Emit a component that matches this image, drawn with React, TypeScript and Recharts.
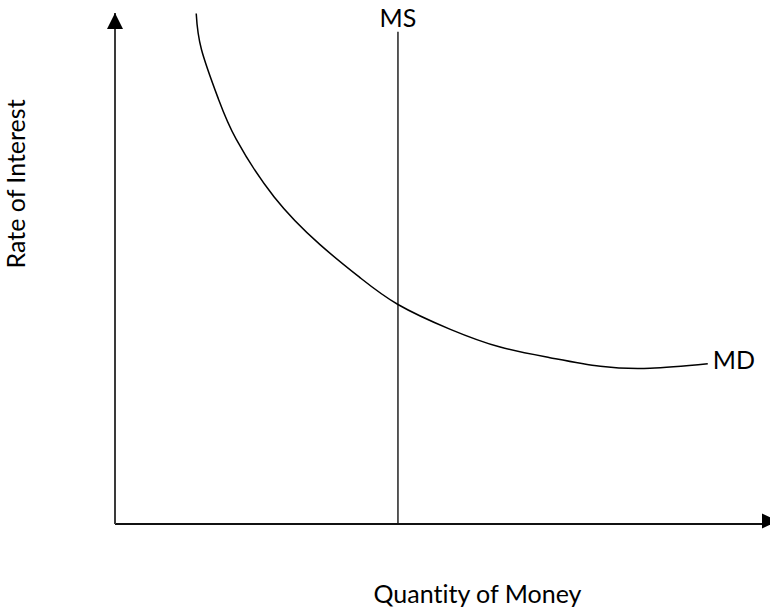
import React from 'react';
import { LineChart, Line, XAxis, YAxis, ReferenceDot } from 'recharts';

// Money demand curve (quantity of money, rate of interest), arbitrary units 0-100
const mdQuantity = [12.4, 13.2, 15.8, 18.5, 24.3, 31.3, 37.4, 43.2, 51.2, 58.8, 66.4, 74.1, 81.7, 90.5];
const mdRate = [99.9, 92.8, 83.0, 75.1, 63.7, 54.3, 47.8, 42.5, 37.6, 34.1, 32.0, 30.3, 29.9, 30.8];

// Money supply: vertical line at a fixed quantity
const msQuantity = [43.2, 43.2];
const msRate = [-0.8, 96.3];

const axisLabels = { x: 'Quantity of Money', y: 'Rate of Interest' };
const seriesLabels = { ms: 'MS', md: 'MD' };

const mdData = mdQuantity.map((x, i) => ({ x, y: mdRate[i] }));
const msData = msQuantity.map((x, i) => ({ x, y: msRate[i] }));

const FONT = 'Lato, "Open Sans", sans-serif';
const FS = 25;

const upArrow = (p: any) => (
  <polygon
    points={`${p.cx},${p.cy} ${p.cx - 8},${p.cy + 16} ${p.cx + 8},${p.cy + 16}`}
    fill="#000"
  />
);
const rightArrow = (p: any) => (
  <polygon
    points={`${p.cx + 8},${p.cy + 1} ${p.cx - 8},${p.cy - 6.5} ${p.cx - 8},${p.cy + 8.5}`}
    fill="#000"
  />
);

export default function App() {
  return (
    <div
      style={{
        position: 'absolute',
        left: 0,
        top: 0,
        background: '#fff',
        fontVariantLigatures: 'none',
        fontFeatureSettings: '"liga" 0, "clig" 0',
      }}
    >
      <LineChart width={770} height={611} margin={{ top: 13, right: 0, left: 0, bottom: 0 }}>
        <XAxis
          type="number"
          dataKey="x"
          domain={[0, 100]}
          tick={false}
          tickLine={false}
          height={87}
          axisLine={{ stroke: '#111', strokeWidth: 2 }}
          label={{
            value: axisLabels.x,
            position: 'insideBottom',
            offset: 8,
            dx: 35,
            fill: '#000',
            fontFamily: FONT,
            fontSize: FS,
          }}
        />
        <YAxis
          type="number"
          dataKey="y"
          domain={[0, 100]}
          tick={false}
          tickLine={false}
          width={115}
          axisLine={{ stroke: '#3a3a3a', strokeWidth: 2 }}
          label={{
            value: axisLabels.y,
            angle: -90,
            position: 'insideLeft',
            offset: 22,
            dx: -6,
            fill: '#000',
            fontFamily: FONT,
            fontSize: FS,
          }}
        />
        <Line
          data={msData}
          dataKey="y"
          type="linear"
          stroke="#222"
          strokeWidth={1.5}
          dot={false}
          activeDot={false}
          isAnimationActive={false}
        />
        <Line
          data={mdData}
          dataKey="y"
          type="natural"
          stroke="#000"
          strokeWidth={1.5}
          dot={false}
          activeDot={false}
          isAnimationActive={false}
        />
        <ReferenceDot x={0} y={100} ifOverflow="visible" shape={upArrow} />
        <ReferenceDot x={100} y={0} ifOverflow="visible" shape={rightArrow} />
        <ReferenceDot
          x={msQuantity[1]}
          y={msRate[1]}
          r={0}
          ifOverflow="visible"
          fill="none"
          stroke="none"
          label={{ value: seriesLabels.ms, position: 'top', offset: 5, fill: '#000', fontFamily: FONT, fontSize: FS }}
        />
        <ReferenceDot
          x={mdQuantity[mdQuantity.length - 1]}
          y={mdRate[mdRate.length - 1]}
          r={0}
          ifOverflow="visible"
          fill="none"
          stroke="none"
          label={{ value: seriesLabels.md, position: 'right', offset: 5, dy: -4, fill: '#000', fontFamily: FONT, fontSize: FS }}
        />
      </LineChart>
    </div>
  );
}
